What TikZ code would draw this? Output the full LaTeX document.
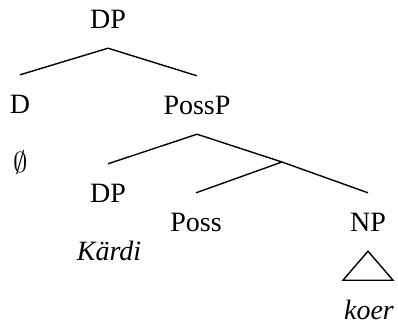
\documentclass[tikz,border=0pt]{standalone}
\usepackage{fontspec}
\setmainfont{Liberation Serif}
\begin{document}
\begin{tikzpicture}[x=0.5pt, y=-0.5pt,
    category/.style ={inner sep=0pt, outer sep=10pt, text height=9.2pt, text depth=0pt, font=\fontsize{14}{17}\selectfont},
    word/.style ={category, font=\fontsize{14}{17}\selectfont\itshape},
    branch/.style ={line width=0.7pt}]
   \useasboundingbox (0,0) rectangle (398,323);
   \node[category] (DP) at (108,19)  {DP};
   \node[category] (D) at (20,104)  {D};
   \node[category] (PossP) at (197,105)  {PossP};
   \node[category] (Null) at (21,163)  {$\emptyset$};
   \node[category] (Spec) at (108,193)  {DP};
   \node[word] (Kardi) at (109,251)  {Kärdi};
   \coordinate (PossBar) at (282,162);
   \node[category] (Poss) at (196,222)  {Poss};
   \node[category] (NP) at (368,222)  {NP};
   \node[word] (Koer) at (369,310)  {koer};
   \draw[branch] (DP.south) to  (D.north);
   \draw[branch] (DP.south) to (PossP.north);
   \draw[branch] (PossP.south) to (Spec.north);
      \draw[branch] (PossP.south) to (PossBar);
   \draw[branch] (PossBar) to (Poss.north);
   \draw[branch] (PossBar) to (NP.north);
   \draw[branch] (NP.south) -- ++(-25,29) -- ++(50,0) -- cycle;
 \end{tikzpicture}
\end{document}
